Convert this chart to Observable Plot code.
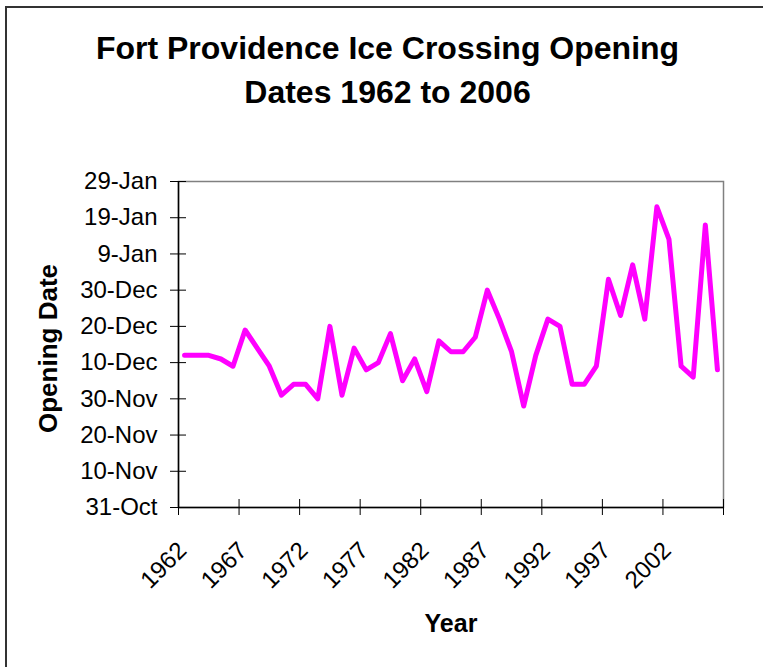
<!DOCTYPE html>
<html><head><meta charset="utf-8">
<script src="https://cdn.jsdelivr.net/npm/d3@7"></script>
<script src="https://cdn.jsdelivr.net/npm/@observablehq/plot@0.6"></script>
<style>
body{margin:0;background:#fff;width:763px;height:667px;overflow:hidden;position:relative;font-family:"Liberation Sans",Arial,sans-serif;}
#frame{position:absolute;left:5px;top:6px;width:900px;height:900px;border-left:2px solid #333;border-top:2px solid #333;pointer-events:none;z-index:10;}
#title{position:relative;height:130px;margin:0;padding-top:26px;padding-left:12px;box-sizing:border-box;text-align:center;font-weight:bold;font-size:32px;line-height:44px;color:#000;}
#chart{position:absolute;left:0;top:130px;}
</style></head><body>
<div id="frame"></div>
<h1 id="title"></h1>
<div id="chart"></div>
<script>
const titleLines = ["Fort Providence Ice Crossing Opening", "Dates 1962 to 2006"];
const xTitle = "Year";
const yTitle = "Opening Date";
const years = [1962,1963,1964,1965,1966,1967,1968,1969,1970,1971,1972,1973,1974,1975,1976,1977,1978,1979,1980,1981,1982,1983,1984,1985,1986,1987,1988,1989,1990,1991,1992,1993,1994,1995,1996,1997,1998,1999,2000,2001,2002,2003,2004,2005,2006];
const openingDates = ["12-Dec","12-Dec","12-Dec","11-Dec","9-Dec","19-Dec","14-Dec","9-Dec","1-Dec","4-Dec","4-Dec","30-Nov","20-Dec","1-Dec","14-Dec","8-Dec","10-Dec","18-Dec","5-Dec","11-Dec","2-Dec","16-Dec","13-Dec","13-Dec","17-Dec","30-Dec","22-Dec","13-Dec","28-Nov","12-Dec","22-Dec","20-Dec","4-Dec","4-Dec","9-Dec","2-Jan","23-Dec","6-Jan","22-Dec","22-Jan","13-Jan","9-Dec","6-Dec","17-Jan","8-Dec"];
const yTickLabels = ["31-Oct","10-Nov","20-Nov","30-Nov","10-Dec","20-Dec","30-Dec","9-Jan","19-Jan","29-Jan"];
const xTickLabels = ["1962","1967","1972","1977","1982","1987","1992","1997","2002"];

document.getElementById("title").innerHTML = titleLines.join("<br>");

const parse = d3.utcParse("%d-%b-%Y");
const parseDay = s => { const d = parse(s + "-2000"); if (d.getUTCMonth() < 6) d.setUTCFullYear(2001); return d; };

const data = years.map((year, i) => ({year, date: parseDay(openingDates[i])}));
const yTicks = yTickLabels.map(parseDay);
const xLabelYears = xTickLabels.map(Number);
const xBounds = [years[0] - 0.5, years[years.length - 1] + 0.5];
const xTickMarks = years.filter((_, i) => i % 5 === 0).map(y => y - 0.5).concat([xBounds[1]]);

const chart = Plot.plot({
  width: 763, height: 537,
  marginTop: 51, marginBottom: 160, marginLeft: 178, marginRight: 40,
  style: {fontFamily: '"Liberation Sans", Arial, sans-serif', fontSize: "24px", color: "#000", background: "transparent", overflow: "visible"},
  x: {type: "linear", domain: xBounds},
  y: {type: "utc", domain: [yTicks[0], yTicks[yTicks.length - 1]]},
  marks: [
    Plot.frame({stroke: "#808080", strokeWidth: 1.5}),
    Plot.axisY({ticks: yTicks, tickSize: 16, dx: 8, tickFormat: () => "", label: null}),
    Plot.axisY({ticks: yTicks, tickSize: 0, tickPadding: 21, tickFormat: (d, i) => yTickLabels[i], fontSize: 24, label: null}),
    Plot.axisX({ticks: xTickMarks, tickSize: 16, dy: -8, tickFormat: () => "", label: null}),
    Plot.axisX({ticks: xLabelYears, tickSize: 0, tickPadding: 39, tickRotate: -45, tickFormat: (d, i) => xTickLabels[i], fontSize: 24, dx: -2, label: null}),
    Plot.ruleX([xBounds[0]], {stroke: "#000", strokeWidth: 1.5}),
    Plot.ruleY([yTicks[0]], {stroke: "#000", strokeWidth: 1.5}),
    Plot.line(data, {x: "year", y: "date", stroke: "#ff00ff", strokeWidth: 5, strokeLinejoin: "round", strokeLinecap: "round"}),
    Plot.text([yTitle], {frameAnchor: "left", textAnchor: "middle", text: d => d, rotate: -90, dx: -130, dy: 4, fontWeight: "bold", fontSize: 26}),
    Plot.text([xTitle], {frameAnchor: "bottom", text: d => d, dy: 124, fontWeight: "bold", fontSize: 25})
  ]
});
document.getElementById("chart").appendChild(chart);
</script>
</body></html>
